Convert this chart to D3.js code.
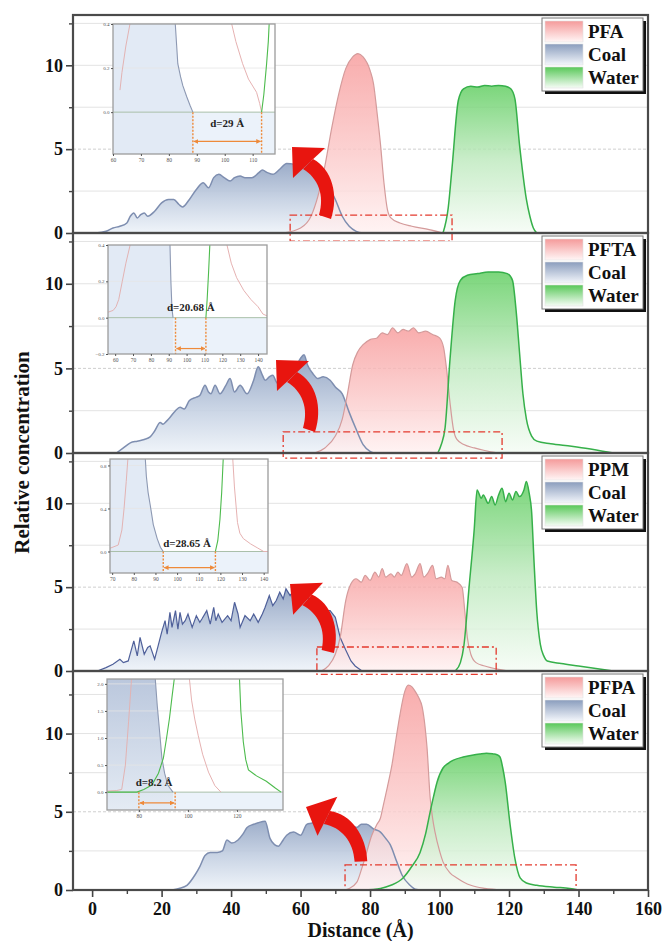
<!DOCTYPE html>
<html><head><meta charset="utf-8">
<script src="https://cdn.jsdelivr.net/npm/d3@7"></script>
<style>
html,body{margin:0;padding:0;background:#fff;}
svg{display:block;font-family:"Liberation Serif","Times New Roman",serif;}
</style></head><body>
<svg id="chart" width="662" height="941"></svg>
<script>
// ---------- density profiles (distance Å, relative concentration) ----------
const xDomain = [-5.5, 160];
const xTickValues = [0, 20, 40, 60, 80, 100, 120, 140, 160];
const xMinorTicks = [10, 30, 50, 70, 90, 110, 130, 150];
const yTickValues = [0, 5, 10];
const yMinorTicks = [2.5, 7.5, 12.5];
const yMaxes = [13, 13, 13, 14];
const additiveNames = ["PFA", "PFTA", "PPM", "PFPA"];
const seriesNames = ["Coal", "Water"];

const coalPFA = [[1,0],[4,0.1],[6,0.3],[8,0.4],[10,0.6],[11,1.0],[12,1.2],[13,0.9],[14,1.1],[15,1.2],[16,1.0],[18,1.3],[20,1.8],[22,2.0],[23.5,2.0],[25,1.7],[26,1.55],[28,2.0],[30,2.6],[32,3.0],[33.5,2.7],[35,3.3],[36.5,3.5],[38,3.3],[39.7,3.1],[41,3.3],[42.6,3.4],[44,3.3],[46,3.3],[48,3.6],[49,3.75],[50.5,3.6],[52,3.5],[54,3.8],[56,4.15],[58,4.1],[60,4.3],[62,4.4],[64,4.0],[66,3.5],[68,2.8],[70,2.0],[72,1.0],[74,0.4],[76,0.1],[78,0]];
const addPFA = [[55,0],[60,0.3],[63,1.0],[65,2.2],[67,4.0],[69,6.3],[71,8.3],[73,9.8],[75,10.5],[76.5,10.7],[78,10.5],[80,9.7],[81,8.9],[82,7.2],[83,5.3],[84,3.0],[85,1.4],[86,0.9],[88.6,0.6],[92,0.4],[97,0.2],[101,0]];
const waterPFA = [[101,0],[102.5,1.5],[103.6,3.9],[105.4,7.9],[106.9,8.6],[109,8.75],[111,8.7],[113,8.8],[115,8.75],[117,8.8],[119,8.75],[120.5,8.6],[121.7,8.0],[123,5.3],[124,3.5],[125,2.0],[126,1.0],[127,0.3],[128,0]];

const coalPFTA = [[7,0],[9,0.3],[11,0.6],[13,0.7],[15,0.8],[16.7,0.95],[18,1.3],[19.6,1.8],[20.4,1.7],[21.5,1.9],[22.4,2.1],[24,2.5],[25.3,2.7],[26.5,2.6],[28,3.1],[30,3.3],[31,3.4],[32.5,4.0],[33.5,3.6],[34.2,3.5],[35.4,4.0],[36.8,3.5],[38.5,4.0],[39.7,4.4],[41,3.6],[42.6,4.0],[44.6,3.5],[46.5,4.3],[47.8,5.1],[49,4.6],[49.8,4.3],[51,4.5],[52,4.6],[53,4.2],[54,4.0],[55.5,4.4],[57,4.6],[58.5,5.0],[60,5.6],[61,5.8],[62,5.2],[63.5,4.7],[65,4.4],[66.5,4.5],[68.5,4.3],[70,3.9],[72,3.5],[74,2.4],[76,1.4],[78,0.5],[80,0.1],[81,0]];
const addPFTA = [[64,0],[67,0.3],[70,1.0],[72,2.0],[73.5,3.5],[75,5.2],[76.5,6.0],[78,6.4],[80,6.7],[82,6.8],[83.5,7.1],[85,7.0],[86.5,7.4],[88,7.1],[89.5,7.3],[91,7.2],[92.5,7.4],[94,7.1],[96,7.2],[98,7.0],[100,6.8],[101.2,6.2],[102,5.0],[103,3.0],[104,1.4],[105,0.8],[107,0.5],[110,0.3],[113,0.15],[117,0]];
const waterPFTA = [[99.5,0],[100.5,0.5],[101.6,1.5],[103,5.5],[104.5,9.0],[106,10.2],[108,10.5],[111,10.6],[114,10.7],[117,10.7],[119.5,10.6],[121,10.2],[122,8.5],[123,6.0],[124,3.5],[125,2.0],[126.5,1.0],[128,0.7],[132,0.55],[138,0.4],[143,0.25],[147,0.1],[150,0]];

const coalPPM = [[1.5,0],[4,0.2],[6,0.4],[8,0.7],[9,0.5],[10.4,0.6],[11.2,1.2],[12,1.8],[13,0.9],[13.8,2.0],[15,1.0],[16,1.4],[16.7,1.5],[18,0.7],[19,1.5],[20,2.3],[21,3.0],[21.6,2.2],[22.4,3.5],[23,2.6],[24,3.6],[24.7,2.5],[25.3,3.5],[26,2.8],[26.8,3.0],[27.6,3.4],[28.8,2.6],[30,3.3],[31,2.9],[31.6,3.1],[33,3.6],[34,2.8],[35,3.8],[35.6,3.0],[36.3,3.4],[37.4,2.9],[39,3.3],[40,3.0],[41,4.1],[42,3.4],[42.6,2.6],[44,3.3],[45.5,3.0],[46.5,3.4],[47.8,2.9],[49,3.4],[49.8,3.8],[51,4.5],[52,3.9],[53,4.2],[54,4.7],[55,4.3],[55.8,4.9],[57,4.5],[58,4.8],[59,4.7],[60,5.1],[61,4.8],[62,4.4],[63,4.2],[64.5,3.9],[66,3.5],[67.5,3.6],[68.5,3.6],[70,3.2],[71.4,2.0],[73,1.25],[74.5,0.6],[75.7,0.3],[77.7,0]];
const addPPM = [[66,0],[68,0.3],[70,1.0],[71.4,2.0],[73,4.2],[74.5,5.2],[76,5.5],[77.5,5.3],[78.6,5.7],[80,5.4],[81.4,5.9],[82.5,5.6],[83.5,6.1],[84.5,5.6],[86,5.8],[87,5.6],[88,5.9],[89,5.7],[90.6,6.4],[92,5.6],[93,5.8],[94.4,6.4],[95.5,5.6],[96.5,5.8],[98,6.3],[99,5.5],[100.5,5.6],[101.5,5.5],[102.4,6.3],[103.5,5.4],[105,5.3],[106.5,5.0],[107.3,3.5],[108,2.0],[109,1.0],[110.5,0.5],[113,0.3],[117,0.1],[120,0]];
const waterPPM = [[104.5,0],[106,0.5],[107,1.5],[108.5,5.0],[110,8.5],[110.8,10.8],[112,10.3],[112.6,10.5],[114,10.0],[115,10.4],[116,9.9],[117,10.5],[118,10.9],[119,10.1],[120,10.6],[121,10.2],[122,10.7],[123,10.4],[124.3,10.8],[125,11.3],[125.8,10.6],[126.5,9.5],[127.2,6.5],[128,3.5],[129,1.6],[130,0.9],[131,0.6],[135,0.45],[140,0.3],[145,0.15],[150,0]];

const coalPFPA = [[23,0],[25,0.1],[27.3,0.3],[29.6,0.96],[31,1.5],[32.5,2.2],[34,2.4],[36,2.4],[37.5,2.5],[38.8,3.2],[40.2,3.0],[42,3.2],[43.5,3.6],[44.6,4.0],[46.5,4.2],[47.8,4.3],[49.8,4.4],[51.2,3.3],[52.5,2.9],[53.6,2.8],[55,3.2],[56,3.5],[58,3.7],[60,3.5],[61.8,4.2],[63.5,4.3],[65,4.6],[67,4.8],[68.5,4.6],[70.5,4.3],[72,4.5],[73.4,4.4],[75,4.1],[76.2,4.0],[77.5,4.2],[79,4.2],[81,3.9],[83,3.7],[84.5,3.3],[85.8,2.9],[87.7,1.8],[89.2,0.96],[91.5,0.3],[93,0.05],[95,0]];
const addPFPA = [[72,0],[74,0.1],[76.2,0.5],[77.5,1.3],[79,2.4],[80.5,3.5],[82,4.2],[83,4.6],[83.8,5.4],[85,6.6],[86.3,8.0],[87.5,9.7],[88.6,11.2],[90,12.7],[91,13.1],[92,13.0],[93,12.7],[94,12.3],[95,11.7],[95.8,10.5],[96.4,9.1],[97.3,5.9],[98,4.6],[98.7,3.7],[100,2.5],[101,1.8],[103,1.1],[105,0.77],[107,0.5],[109,0.3],[113,0.1],[118,0]];
const waterPFPA = [[78,0],[83,0.1],[86,0.3],[89.5,0.77],[92,1.5],[94.4,2.4],[96,3.6],[97.3,5.0],[98.3,6.0],[99.3,6.9],[101,7.8],[102.5,8.1],[104,8.3],[106.8,8.5],[109,8.6],[111.6,8.7],[113.5,8.75],[115.4,8.7],[116.5,8.65],[117.4,8.5],[118.2,7.8],[118.9,6.9],[120.3,4.2],[121.7,2.0],[123.2,0.77],[125,0.45],[128,0.3],[133,0.18],[137.5,0.1],[140,0]];

// zoomed interfacial region of each system (x range, y range)
const zoomRegions = [[[57,103.6],[-0.48,1.07]], [[55,118],[-0.3,1.25]], [[64.7,116.3],[-0.2,1.43]], [[72.8,139.3],[0.03,1.6]]];

// ---------- inset profiles near the zero line ----------
const insetXTicks = [[60,70,80,90,100,110],[60,70,80,90,100,110,120,130,140],[70,80,90,100,110,120,130,140],[80,100,120]];
const insetYTicks = [[0,0.2,0.4],[-0.2,0,0.2,0.4],[0,0.4,0.8],[0,0.5,1,1.5,2]];
const insetXDomains = [[60,118],[56,145],[69,142],[67,138.8]];
const insetYDomains = [[-0.19,0.4],[-0.2,0.4],[-0.2,0.86],[-0.33,2.09]];
const gapLabels = ["d=29 Å", "d=20.68 Å", "d=28.65 Å", "d=8.2 Å"];
const gapEnds = [[88.6,113.2],[93.8,110.8],[93.6,117.7],[80,94.8]];
const gapArrowY = [-0.133,-0.17,-0.15,-0.2];
const gapLabelPos = [[100.9,-0.05],[102.4,0.06],[104.6,0.08],[86.2,0.185]];

const inCoal = [
  [[81.8,0.45],[82.3,0.4],[82.8,0.3],[83.2,0.22],[84.2,0.16],[85,0.12],[86.4,0.07],[87.6,0.03],[88.6,0]],
  [[90.5,0.43],[90.7,0.4],[91.2,0.2],[91.8,0.05],[92.4,0]],
  [[85.2,0.9],[85.8,0.7],[86.6,0.55],[87.6,0.43],[89,0.25],[90.8,0.12],[92.3,0.04],[93.6,0]],
  [[86.6,2.15],[87.5,1.6],[88.5,1.1],[89.4,0.63],[90.5,0.35],[91.8,0.13],[93.9,0]]
];
const inAddLeft = [
  [[62.5,0.1],[63.2,0.18],[64.6,0.3],[66.8,0.45]],
  [[56,0.03],[58.9,0.04],[60.5,0.06],[62,0.1],[64,0.2],[66,0.3],[68.4,0.4],[69,0.45]],
  [[69,0.03],[72.8,0.06],[74.5,0.2],[75.5,0.4],[76.5,0.65],[77.4,0.9]],
  [[67,0.02],[71,0.03],[73,0.05],[74.5,0.5],[75.8,1.3],[77.1,2.15]]
];
const inAddRight = [
  [[102.3,0.45],[102.5,0.4],[104,0.32],[106.4,0.22],[108.5,0.15],[111.4,0.09],[112.5,0.04],[113.2,0]],
  [[122.3,0.45],[122.6,0.4],[125,0.3],[128,0.22],[132,0.15],[136,0.1],[140,0.06],[142.7,0.02],[145,0.01]],
  [[125.6,0.9],[126.5,0.6],[127.9,0.27],[129,0.17],[130.6,0.12],[134,0.07],[137,0.035],[140,0],[142,0]],
  [[100.5,2.15],[101.5,1.7],[102.8,1.35],[104.2,1.05],[106,0.7],[108.4,0.37],[111,0.12],[113.5,0]]
];
const inWater = [
  [[[113.2,0],[114,0.08],[115,0.22],[115.6,0.32],[116.1,0.45]]],
  [[[110.8,0],[111.5,0.1],[112.3,0.25],[113,0.4],[113.2,0.45]]],
  [[[117.7,0],[118.8,0.1],[119.8,0.3],[120.6,0.55],[121.4,0.9]]],
  [[[67,0],[79.2,0],[82,0.05],[85.3,0.13],[88,0.35],[90,0.63],[91.3,1.0],[92.5,1.37],[93.5,1.75],[94.6,2.15]],
   [[121,2.15],[121.6,1.5],[122.6,0.93],[123.6,0.6],[124.7,0.41],[128,0.3],[132,0.2],[135.5,0.08],[138,0]]]
];

// ---------- layout ----------
const plotL = 73, plotR = 648;
const panelTops = [15, 233, 453, 671];
const panelBots = [233, 453, 671, 890];
const insetBoxes = [[113,275,24,154],[108,267,245,354],[110,268,459,573],[107,283,679,810]];
const arrowTips = [[292,147,0],[276,360,0],[290,584,-4],[306,807,-20]];

const coalProfiles = [coalPFA, coalPFTA, coalPPM, coalPFPA];
const addProfiles = [addPFA, addPFTA, addPPM, addPFPA];
const waterProfiles = [waterPFA, waterPFTA, waterPPM, waterPFPA];

const svg = d3.select("#chart");
const defs = svg.append("defs");

function vGrad(id, stops) {
  const g = defs.append("linearGradient").attr("id", id)
    .attr("x1", 0).attr("y1", 0).attr("x2", 0).attr("y2", 1);
  stops.forEach(s => g.append("stop").attr("offset", s[0]).attr("stop-color", s[1]));
}
vGrad("gCoal", [[0,"#8b9ebf"],[0.55,"#c4d0e2"],[1,"#eef3f9"]]);
vGrad("gAdd", [[0,"#f79b9b"],[0.55,"#fbc8c8"],[1,"#fff1f1"]]);
vGrad("gWater", [[0,"#5ecd5e"],[0.5,"#bde9bd"],[1,"#f5fcf5"]]);
vGrad("sAdd", [[0,"#f59a9a"],[1,"#fff6f6"]]);
vGrad("sCoal", [[0,"#8a9dbd"],[1,"#f3f6fb"]]);
vGrad("sWater", [[0,"#58c858"],[1,"#f6fcf6"]]);
vGrad("gInCoal4", [[0,"#b9c6dc"],[1,"#e4ebf4"]]);

const mk = defs.append("marker").attr("id","gapHead").attr("viewBox","0 0 10 10")
  .attr("refX",9).attr("refY",5).attr("markerWidth",4).attr("markerHeight",4)
  .attr("orient","auto-start-reverse");
mk.append("path").attr("d","M0,0 L10,5 L0,10 Z").attr("fill","#ee8a3a");

const x = d3.scaleLinear().domain(xDomain).range([plotL, plotR]);

panelTops.forEach((top, i) => {
  const bot = panelBots[i];
  const y = d3.scaleLinear().domain([0, yMaxes[i]]).range([bot, top]);
  const g = svg.append("g");

  defs.append("clipPath").attr("id", "clipP" + i)
    .append("rect").attr("x", plotL).attr("y", top).attr("width", plotR - plotL).attr("height", bot - top);

  // horizontal grid
  [2.5, 5, 7.5, 10, 12.5].filter(v => v < yMaxes[i]).forEach(v => {
    g.append("line").attr("x1", plotL).attr("x2", plotR).attr("y1", y(v)).attr("y2", y(v))
      .attr("stroke", v === 5 ? "#cfcfcf" : "#e3e3e3").attr("stroke-width", 1)
      .attr("stroke-dasharray", v === 5 ? "3,2" : null);
  });

  const body = g.append("g").attr("clip-path", `url(#clipP${i})`);
  const curve = i === 2 ? d3.curveLinear : d3.curveMonotoneX;
  const area = d3.area().x(d => x(d[0])).y0(y(0)).y1(d => y(d[1])).curve(curve);
  const line = d3.line().x(d => x(d[0])).y(d => y(d[1])).curve(curve);
  const smoothArea = d3.area().x(d => x(d[0])).y0(y(0)).y1(d => y(d[1])).curve(d3.curveMonotoneX);
  const smoothLine = d3.line().x(d => x(d[0])).y(d => y(d[1])).curve(d3.curveMonotoneX);

  body.append("path").datum(coalProfiles[i]).attr("d", area).attr("fill", "url(#gCoal)").attr("fill-opacity", 0.9);
  body.append("path").datum(addProfiles[i]).attr("d", smoothArea).attr("fill", "url(#gAdd)").attr("fill-opacity", 0.82);
  body.append("path").datum(waterProfiles[i]).attr("d", smoothArea).attr("fill", "url(#gWater)").attr("fill-opacity", 0.82);
  body.append("path").datum(coalProfiles[i]).attr("d", line).attr("fill", "none")
    .attr("stroke", i === 2 ? "#4f609a" : "#7e8eb0").attr("stroke-width", i === 2 ? 1.2 : 1.5);
  body.append("path").datum(addProfiles[i]).attr("d", smoothLine).attr("fill", "none")
    .attr("stroke", "#d49b9b").attr("stroke-width", 1.2);
  body.append("path").datum(waterProfiles[i]).attr("d", smoothLine).attr("fill", "none")
    .attr("stroke", "#36b04a").attr("stroke-width", 1.5);

  // dash-dot box around the interfacial region
  const zr = zoomRegions[i];
  g.append("rect").attr("x", x(zr[0][0])).attr("y", y(zr[1][1]))
    .attr("width", x(zr[0][1]) - x(zr[0][0])).attr("height", y(zr[1][0]) - y(zr[1][1]))
    .attr("fill", "none").attr("stroke", "#e33a2e").attr("stroke-width", 1.3)
    .attr("stroke-dasharray", "7,3,2,3");

  // y axis
  const ya = g.append("g").attr("transform", `translate(${plotL},0)`)
    .call(d3.axisLeft(y).tickValues(yTickValues).tickSize(7).tickPadding(3).tickFormat(d3.format("d")));
  ya.select(".domain").remove();
  ya.selectAll("line").attr("stroke", "#444").attr("stroke-width", 1.6);
  ya.selectAll("text").attr("font-size", 18).attr("font-weight", "bold").attr("fill", "#111")
    .attr("font-family", "Liberation Serif, serif");
  const ym = g.append("g").attr("transform", `translate(${plotL},0)`)
    .call(d3.axisLeft(y).tickValues(yMinorTicks.filter(v => v < yMaxes[i])).tickSize(4).tickFormat(""));
  ym.select(".domain").remove();
  ym.selectAll("line").attr("stroke", "#444").attr("stroke-width", 1.4);

  // ---------- inset ----------
  const b = insetBoxes[i];
  const ix = d3.scaleLinear().domain(insetXDomains[i]).range([b[0], b[1]]);
  const iy = d3.scaleLinear().domain(insetYDomains[i]).range([b[3], b[2]]);
  defs.append("clipPath").attr("id", "clipI" + i)
    .append("rect").attr("x", b[0]).attr("y", b[2]).attr("width", b[1] - b[0]).attr("height", b[3] - b[2]);
  const ig = g.append("g");
  const ic = ig.append("g").attr("clip-path", `url(#clipI${i})`);
  ic.append("rect").attr("x", b[0]).attr("y", b[2]).attr("width", b[1] - b[0]).attr("height", b[3] - b[2]).attr("fill", "#fff");
  ic.append("rect").attr("x", b[0]).attr("y", iy(0)).attr("width", b[1] - b[0]).attr("height", b[3] - iy(0)).attr("fill", "#ebf2fa");
  const il = d3.line().x(d => ix(d[0])).y(d => iy(d[1])).curve(d3.curveMonotoneY);
  const il2 = d3.line().x(d => ix(d[0])).y(d => iy(d[1])).curve(d3.curveLinear);
  // coal side of the gap
  const cc = inCoal[i];
  const topY = insetYDomains[i][1];
  const coalPoly = [[insetXDomains[i][0], topY + 0.1], [cc[0][0], topY + 0.1]].concat(cc)
    .concat([[cc[cc.length - 1][0], insetYDomains[i][0]], [insetXDomains[i][0], insetYDomains[i][0]]]);
  ic.append("path").attr("d", "M" + coalPoly.map(d => [ix(d[0]), iy(d[1])].join(",")).join("L") + "Z")
    .attr("fill", i === 3 ? "url(#gInCoal4)" : "#e2eaf5");
  insetYTicks[i].filter(v => v !== 0 && v > insetYDomains[i][0] && v < topY).forEach(v => {
    ic.append("line").attr("x1", b[0]).attr("x2", b[1]).attr("y1", iy(v)).attr("y2", iy(v))
      .attr("stroke", "#e4e4e4").attr("stroke-width", 0.8);
  });
  ic.append("line").attr("x1", b[0]).attr("x2", b[1]).attr("y1", iy(0)).attr("y2", iy(0))
    .attr("stroke", "#a9bfa9").attr("stroke-width", 1);
  ic.append("path").datum(inAddLeft[i]).attr("d", il2).attr("fill", "none").attr("stroke", "#e2b3b3").attr("stroke-width", 1);
  ic.append("path").datum(inAddRight[i]).attr("d", il2).attr("fill", "none").attr("stroke", "#e6b2b2").attr("stroke-width", 1);
  ic.append("path").datum(cc).attr("d", il2).attr("fill", "none").attr("stroke", "#8d99b3").attr("stroke-width", 1.1);
  inWater[i].forEach(w => ic.append("path").datum(w).attr("d", il2).attr("fill", "none")
    .attr("stroke", "#4dbb4d").attr("stroke-width", 1.1));
  // gap marker
  const ge = gapEnds[i];
  ge.forEach(gx => ic.append("line").attr("x1", ix(gx)).attr("x2", ix(gx)).attr("y1", iy(0)).attr("y2", b[3])
    .attr("stroke", "#ee8a3a").attr("stroke-width", 1.4).attr("stroke-dasharray", "2,1.5"));
  ic.append("line").attr("x1", ix(ge[0]) + 1).attr("x2", ix(ge[1]) - 1)
    .attr("y1", iy(gapArrowY[i])).attr("y2", iy(gapArrowY[i]))
    .attr("stroke", "#ee8a3a").attr("stroke-width", 1.2)
    .attr("marker-start", "url(#gapHead)").attr("marker-end", "url(#gapHead)");
  ig.append("text").attr("x", ix(gapLabelPos[i][0])).attr("y", iy(gapLabelPos[i][1])).attr("dy", "0.35em")
    .attr("text-anchor", "middle").attr("font-size", 11).attr("font-weight", "bold").attr("fill", "#222")
    .text(gapLabels[i]);
  ig.append("rect").attr("x", b[0]).attr("y", b[2]).attr("width", b[1] - b[0]).attr("height", b[3] - b[2])
    .attr("fill", "none").attr("stroke", "#9c9c9c").attr("stroke-width", 1.3);
  const ixa = ig.append("g").attr("transform", `translate(0,${b[3]})`)
    .call(d3.axisBottom(ix).tickValues(insetXTicks[i]).tickSize(2).tickPadding(2));
  ixa.select(".domain").remove();
  ixa.selectAll("line").attr("stroke", "#555");
  ixa.selectAll("text").attr("font-size", 5.5).attr("fill", "#555").attr("font-family", "Liberation Serif, serif");
  const iya = ig.append("g").attr("transform", `translate(${b[0]},0)`)
    .call(d3.axisLeft(iy).tickValues(insetYTicks[i]).tickSize(2).tickPadding(1.5).tickFormat(d3.format(".1f")));
  iya.select(".domain").remove();
  iya.selectAll("line").attr("stroke", "#555");
  iya.selectAll("text").attr("font-size", 5).attr("fill", "#555").attr("font-family", "Liberation Serif, serif");

  // curved pointer from the boxed region to the inset
  const t = arrowTips[i];
  const ar = g.append("g").attr("transform", `translate(${t[0]},${t[1]}) rotate(${t[2]})`);
  ar.append("path").attr("d", "M0,0 L33,1 L1,31 Z").attr("fill", "#e8150f");
  ar.append("path").attr("d", "M21,12 C40,22 47,48 39,72 L27,68 C33,48 26,31 11,22 Z").attr("fill", "#e8150f");

  // legend
  const lg = g.append("g").attr("transform", `translate(${plotR - 106},${top + 3})`);
  lg.append("rect").attr("x", 3).attr("y", 3).attr("width", 101).attr("height", 73).attr("fill", "#111");
  lg.append("rect").attr("width", 101).attr("height", 73).attr("fill", "#fff").attr("stroke", "#777").attr("stroke-width", 1);
  const names = [additiveNames[i]].concat(seriesNames);
  const sw = ["sAdd", "sCoal", "sWater"];
  names.forEach((n, k) => {
    lg.append("rect").attr("x", 3).attr("y", 3 + k * 23).attr("width", 38).attr("height", 21)
      .attr("fill", `url(#${sw[k]})`).attr("stroke", "#e2e2e2").attr("stroke-width", 0.6);
    lg.append("text").attr("x", 46).attr("y", 3 + k * 23 + 17).attr("font-size", 19).attr("font-weight", "bold")
      .attr("fill", "#111").text(n);
  });

  // panel frame
  g.append("rect").attr("x", plotL).attr("y", top).attr("width", plotR - plotL).attr("height", bot - top)
    .attr("fill", "none").attr("stroke", "#4a4a4a").attr("stroke-width", 2.2);
});

// bottom distance axis
const xa = svg.append("g").attr("transform", `translate(0,${panelBots[3]})`)
  .call(d3.axisBottom(x).tickValues(xTickValues).tickSize(7).tickPadding(5).tickFormat(d3.format("d")));
xa.select(".domain").remove();
xa.selectAll("line").attr("stroke", "#444").attr("stroke-width", 1.6);
xa.selectAll("text").attr("font-size", 18).attr("font-weight", "bold").attr("fill", "#111")
  .attr("font-family", "Liberation Serif, serif");
const xm = svg.append("g").attr("transform", `translate(0,${panelBots[3]})`)
  .call(d3.axisBottom(x).tickValues(xMinorTicks).tickSize(4).tickFormat(""));
xm.select(".domain").remove();
xm.selectAll("line").attr("stroke", "#444").attr("stroke-width", 1.4);

svg.append("text").attr("x", (plotL + plotR) / 2).attr("y", 937).attr("text-anchor", "middle")
  .attr("font-size", 20).attr("font-weight", "bold").attr("fill", "#111").text("Distance (Å)");
svg.append("text").attr("transform", `translate(29,${(panelTops[0] + panelBots[3]) / 2}) rotate(-90)`)
  .attr("text-anchor", "middle").attr("font-size", 21).attr("font-weight", "bold").attr("fill", "#111")
  .text("Relative concentration");
</script>
</body></html>
